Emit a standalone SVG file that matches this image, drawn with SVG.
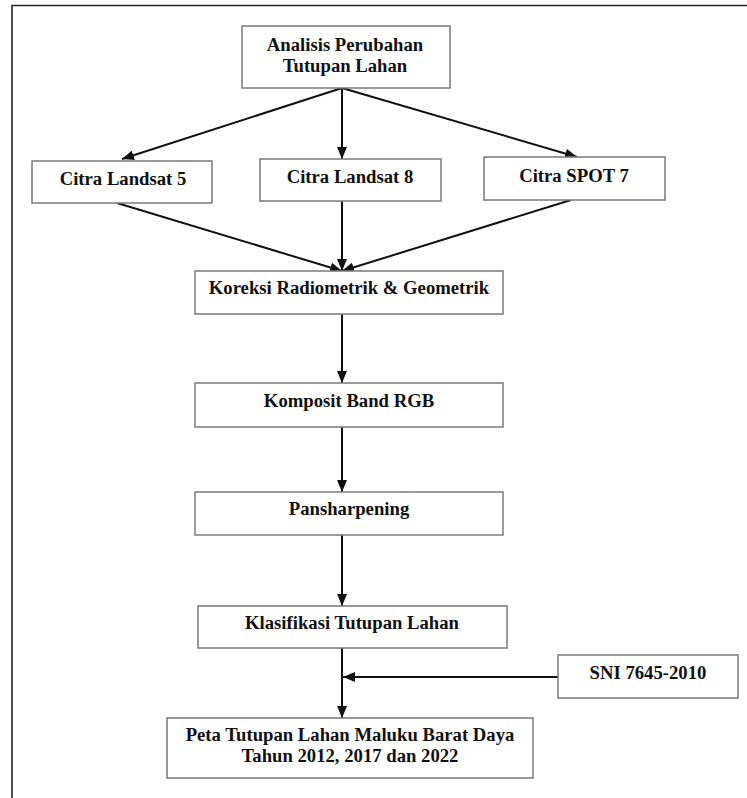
<svg xmlns="http://www.w3.org/2000/svg" width="747" height="798" viewBox="0 0 747 798">
  <style>
    .box { fill: #ffffff; stroke: #7a7a7a; stroke-width: 1.5; }
    .lbl { font-family: "Liberation Serif", "Times New Roman", serif; font-weight: bold; font-size: 18.7px; fill: #111111; text-anchor: middle; }
    .conn { stroke: #111111; stroke-width: 2; fill: none; marker-end: url(#arrow); }
    .frame { stroke: #222222; stroke-width: 1.6; fill: none; }
  </style>
  <defs>
    <marker id="arrow" markerUnits="userSpaceOnUse" markerWidth="12" markerHeight="10" viewBox="0 0 12 10" refX="12" refY="5" orient="auto">
      <path d="M0,0 L12,5 L0,10 Z" fill="#111111"/>
    </marker>
  </defs>
  <rect width="747" height="798" fill="#ffffff"/>
  <path class="frame" d="M12,798 V5.5 H747"/>

  <g id="connectors">
    <line class="conn" x1="342" y1="88" x2="122" y2="159"/>
    <line class="conn" x1="342" y1="88" x2="342" y2="159"/>
    <line class="conn" x1="342" y1="88" x2="577" y2="157"/>
    <line class="conn" x1="117" y1="203" x2="342" y2="271"/>
    <line class="conn" x1="342" y1="201" x2="342" y2="271"/>
    <line class="conn" x1="571" y1="200" x2="342" y2="271"/>
    <line class="conn" x1="342" y1="314" x2="342" y2="383"/>
    <line class="conn" x1="342" y1="427" x2="342" y2="492"/>
    <line class="conn" x1="342" y1="535" x2="342" y2="606"/>
    <line class="conn" x1="342" y1="648" x2="342" y2="718"/>
    <line class="conn" x1="558" y1="677" x2="343" y2="677"/>
  </g>

  <g id="node-analisis">
    <rect class="box" x="242" y="26" width="208" height="62"/>
    <text class="lbl" x="345" y="51">Analisis Perubahan</text>
    <text class="lbl" x="345" y="72">Tutupan Lahan</text>
  </g>
  <g id="node-landsat5">
    <rect class="box" x="32" y="161" width="180" height="42"/>
    <text class="lbl" x="123" y="185">Citra Landsat 5</text>
  </g>
  <g id="node-landsat8">
    <rect class="box" x="260" y="159" width="181" height="42"/>
    <text class="lbl" x="350" y="183">Citra Landsat 8</text>
  </g>
  <g id="node-spot7">
    <rect class="box" x="484" y="157" width="181" height="43"/>
    <text class="lbl" x="574" y="182">Citra SPOT 7</text>
  </g>
  <g id="node-koreksi">
    <rect class="box" x="195" y="271" width="308" height="43"/>
    <text class="lbl" x="349" y="294">Koreksi Radiometrik &amp; Geometrik</text>
  </g>
  <g id="node-komposit">
    <rect class="box" x="195" y="383" width="308" height="44"/>
    <text class="lbl" x="349" y="407">Komposit Band RGB</text>
  </g>
  <g id="node-pansharpening">
    <rect class="box" x="195" y="492" width="308" height="43"/>
    <text class="lbl" x="349" y="515">Pansharpening</text>
  </g>
  <g id="node-klasifikasi">
    <rect class="box" x="198" y="606" width="309" height="42"/>
    <text class="lbl" x="352" y="629">Klasifikasi Tutupan Lahan</text>
  </g>
  <g id="node-sni">
    <rect class="box" x="558" y="655" width="180" height="43"/>
    <text class="lbl" x="648" y="679">SNI 7645-2010</text>
  </g>
  <g id="node-peta">
    <rect class="box" x="167" y="718" width="366" height="60"/>
    <text class="lbl" x="350" y="741">Peta Tutupan Lahan Maluku Barat Daya</text>
    <text class="lbl" x="350" y="762">Tahun 2012, 2017 dan 2022</text>
  </g>
</svg>
